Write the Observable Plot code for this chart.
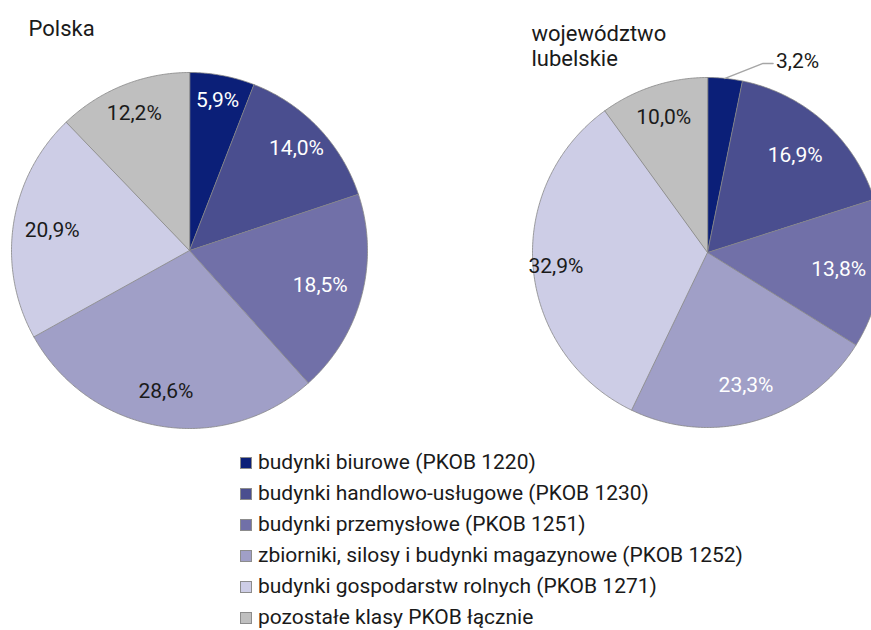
<!DOCTYPE html>
<html><head><meta charset="utf-8">
<script src="https://cdn.jsdelivr.net/npm/d3@7"></script>
<script src="https://cdn.jsdelivr.net/npm/@observablehq/plot@0.6"></script>
<style>
body{margin:0;background:#fff;font-family:Roboto,sans-serif;}
#wrap{position:relative;width:871px;height:630px;overflow:hidden;background:#fff;}
#legend{position:absolute;left:240px;top:447px;font-size:21px;color:#1a1a1a;line-height:31px;}
#legend .row{height:31px;display:flex;align-items:center;white-space:nowrap;}
#legend .sw{width:12px;height:12px;border:1px solid #8c8c8c;box-sizing:border-box;margin-right:6px;flex:none;}
</style></head><body>
<div id="wrap"><div id="chart"></div><div id="legend"></div></div>
<script>
// ---- data ----
const categories = [
  "budynki biurowe (PKOB 1220)",
  "budynki handlowo-usługowe (PKOB 1230)",
  "budynki przemysłowe (PKOB 1251)",
  "zbiorniki, silosy i budynki magazynowe (PKOB 1252)",
  "budynki gospodarstw rolnych (PKOB 1271)",
  "pozostałe klasy PKOB łącznie"
];
const polska = [5.9, 14.0, 18.5, 28.6, 20.9, 12.2];
const lubelskie = [3.2, 16.9, 13.8, 23.3, 32.9, 10.0];
const pieTitles = ["Polska", "województwo\nlubelskie"];

// ---- styles / layout ----
const colors = ["#0b1f78", "#4a4e8f", "#7170a8", "#a09fc7", "#cdcde6", "#bfbfbf"];
const W = 871, H = 440;
const FS = 21, TFS = 22;
const pies = [
  {key: "pl", title: pieTitles[0], values: polska, cx: 189, cy: 250, r: 178, white: [0, 1, 2], tx: 28, ty: 35,
   lr: [0.86, 0.83, 0.76, 0.8, 0.78, 0.83]},
  {key: "lu", title: pieTitles[1], values: lubelskie, cx: 707, cy: 252, r: 175, white: [1, 2, 3], outside: [0], tx: 531, ty: 40,
   lr: [1, 0.75, 0.755, 0.79, 0.87, 0.81]}
];
const fmt = v => v.toFixed(1).replace(".", ",") + "%";

const polys = [], labels = [], leaders = [], titles = [];
for (const p of pies) {
  const arcs = d3.pie().sort(null).value(d => d)(p.values);
  arcs.forEach((a, i) => {
    const key = p.key + i;
    polys.push({key, cat: categories[i], x: p.cx, y: p.cy});
    const n = Math.max(2, Math.ceil((a.endAngle - a.startAngle) / (Math.PI / 360)));
    for (let k = 0; k <= n; k++) {
      const t = a.startAngle + (a.endAngle - a.startAngle) * k / n;
      polys.push({key, cat: categories[i], x: p.cx + p.r * Math.sin(t), y: p.cy - p.r * Math.cos(t)});
    }
    const m = (a.startAngle + a.endAngle) / 2;
    if (p.outside && p.outside.includes(i)) {
      const x0 = p.cx + p.r * Math.sin(m), y0 = p.cy - p.r * Math.cos(m);
      const seg = "L" + key;
      leaders.push({seg, x: x0, y: y0}, {seg, x: x0 + 38, y: y0 - 15}, {seg, x: x0 + 48, y: y0 - 15});
      labels.push({x: x0 + 51, y: y0 - 17, text: fmt(p.values[i]), white: false, anchor: "start"});
    } else {
      const rr = p.lr[i] * p.r;
      labels.push({x: p.cx + rr * Math.sin(m), y: p.cy - rr * Math.cos(m), text: fmt(p.values[i]), white: p.white.includes(i), anchor: "middle"});
    }
  });
  p.title.split("\n").forEach((line, j) => titles.push({x: p.tx, y: p.ty + 25 * j, text: line}));
}

const chart = Plot.plot({
  width: W, height: H,
  margin: 0,
  x: {domain: [0, W], range: [0, W], axis: null},
  y: {domain: [0, H], range: [0, H], axis: null},
  color: {domain: categories, range: colors},
  style: {fontFamily: "Roboto, sans-serif", background: "white", overflow: "hidden"},
  marks: [
    Plot.line(polys, {x: "x", y: "y", z: "key", fill: "cat", stroke: "#858585", strokeWidth: 0.8, curve: "linear-closed"}),
    Plot.line(leaders, {x: "x", y: "y", z: "seg", stroke: "#a6a6a6", strokeWidth: 1.5}),
    Plot.text(labels.filter(d => d.white), {x: "x", y: "y", text: "text", fill: "white", fontSize: FS, textAnchor: "middle"}),
    Plot.text(labels.filter(d => !d.white && d.anchor === "middle"), {x: "x", y: "y", text: "text", fill: "#1a1a1a", fontSize: FS, textAnchor: "middle"}),
    Plot.text(labels.filter(d => d.anchor === "start"), {x: "x", y: "y", text: "text", fill: "#1a1a1a", fontSize: FS, textAnchor: "start"}),
    Plot.text(titles, {x: "x", y: "y", text: "text", fill: "#1a1a1a", fontSize: TFS, textAnchor: "start", lineAnchor: "bottom"})
  ]
});
document.getElementById("chart").appendChild(chart);

const lg = document.getElementById("legend");
categories.forEach((c, i) => {
  const row = document.createElement("div"); row.className = "row";
  const sw = document.createElement("span"); sw.className = "sw"; sw.style.background = colors[i];
  const tx = document.createElement("span"); tx.textContent = c;
  row.appendChild(sw); row.appendChild(tx); lg.appendChild(row);
});
</script>
</body></html>
